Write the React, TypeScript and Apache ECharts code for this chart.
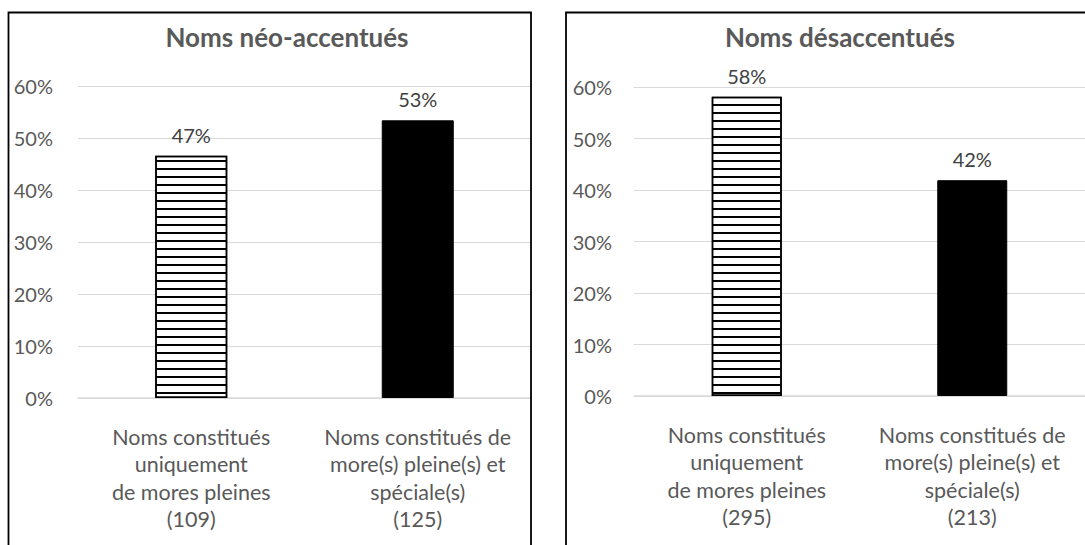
import React, { useEffect, useRef } from "react";
import * as echarts from "echarts";

const titles = ["Noms néo-accentués", "Noms désaccentués"];
const categoriesLeft = [
  "Noms constitués\nuniquement\nde mores pleines\n(109)",
  "Noms constitués de\nmore(s) pleine(s) et\nspéciale(s)\n(125)",
];
const categoriesRight = [
  "Noms constitués\nuniquement\nde mores pleines\n(295)",
  "Noms constitués de\nmore(s) pleine(s) et\nspéciale(s)\n(213)",
];
const valuesLeft = [46.6, 53.4];
const valuesRight = [58.1, 41.9];
const yMin = 0;
const yMax = 60;
const yStep = 10;

const FONT = "Lato, 'Open Sans', sans-serif";
const GRAY = "#595959";

const hatch = {
  color: "#ffffff",
  borderColor: "#000000",
  borderWidth: 1.5,
  decal: {
    symbol: "rect",
    symbolSize: 1,
    dashArrayX: [1, 0],
    dashArrayY: [2, 6],
    rotation: 0,
    color: "#000000",
  },
};
const solid = { color: "#000000", borderColor: "#000000", borderWidth: 1 };

function makeData(values: number[]) {
  return values.map((v, i) => ({ value: v, itemStyle: i === 0 ? hatch : solid }));
}

export default function App() {
  const ref = useRef<HTMLDivElement>(null);
  useEffect(() => {
    if (!ref.current) return;
    const chart = echarts.init(ref.current, null, { renderer: "svg" });
    const yAxisBase = (gridIndex: number, margin: number) => ({
      type: "value",
      gridIndex,
      min: yMin,
      max: yMax,
      interval: yStep,
      axisLine: { show: false },
      axisTick: { show: false },
      axisLabel: {
        formatter: "{value}%",
        color: GRAY,
        fontFamily: FONT,
        fontSize: 20,
        margin,
      },
      splitLine: { lineStyle: { color: "#d9d9d9", width: 1.2 } },
    });
    const xAxisBase = (gridIndex: number, data: string[]) => ({
      type: "category",
      gridIndex,
      data,
      axisLine: { show: true, lineStyle: { color: "#d9d9d9", width: 1.5 } },
      axisTick: { show: false },
      axisLabel: {
        color: GRAY,
        fontFamily: FONT,
        fontSize: 21.5,
        lineHeight: 27.5,
        margin: 25,
        interval: 0,
      },
    });
    const label = {
      show: true,
      position: "top",
      distance: 11,
      color: "#404040",
      fontFamily: FONT,
      fontSize: 20,
      formatter: (p: any) => Math.round(p.value) + "%",
    };
    const titleStyle = { color: GRAY, fontFamily: FONT, fontSize: 26, fontWeight: "bold" };
    chart.setOption({
      animation: false,
      backgroundColor: "#ffffff",
      title: [
        { text: titles[0], left: 282, top: 19, textAlign: "center", textStyle: titleStyle },
        { text: titles[1], left: 835, top: 19, textAlign: "center", textStyle: titleStyle },
      ],
      grid: [
        { left: 78, right: 1085 - 531, top: 86, bottom: 545 - 398 },
        { left: 634, right: 0, top: 87, bottom: 545 - 396 },
      ],
      xAxis: [xAxisBase(0, categoriesLeft), xAxisBase(1, categoriesRight)],
      yAxis: [yAxisBase(0, 25), yAxisBase(1, 22)],
      series: [
        {
          type: "bar",
          xAxisIndex: 0,
          yAxisIndex: 0,
          barWidth: 72,
          data: makeData(valuesLeft),
          label,
        },
        {
          type: "bar",
          xAxisIndex: 1,
          yAxisIndex: 1,
          barWidth: 70,
          data: makeData(valuesRight),
          label,
        },
      ],
      graphic: [
        {
          type: "rect",
          shape: { x: 8.5, y: 12.5, width: 522.5, height: 600 },
          style: { fill: "none", stroke: "#000000", lineWidth: 1.8 },
          z: 100,
        },
        {
          type: "rect",
          shape: { x: 566, y: 12.5, width: 600, height: 600 },
          style: { fill: "none", stroke: "#000000", lineWidth: 1.8 },
          z: 100,
        },
      ],
    });
    return () => chart.dispose();
  }, []);
  return (
    <div
      ref={ref}
      style={{ position: "fixed", left: 0, top: 0, width: 1085, height: 545 }}
    />
  );
}
